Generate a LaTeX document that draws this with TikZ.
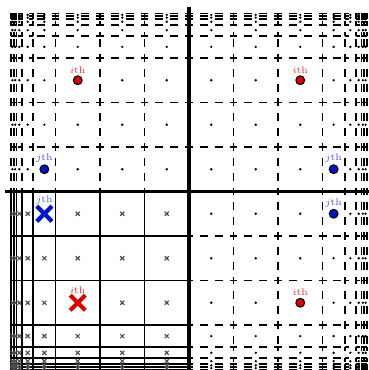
\documentclass[tikz,border=0pt]{standalone}
\usepackage{amsmath}
\usetikzlibrary{shapes.misc}
\definecolor{Ink}{HTML}{000000}
\definecolor{IthRed}{HTML}{DD0000}
\definecolor{JthBlue}{HTML}{0014CC}
\definecolor{MarkGray}{HTML}{505050}

\begin{document}
\begin{tikzpicture}[
  gridline/.style={
    draw=Ink,
    line width=1.2pt
  },
  imageline/.style={
    draw=Ink,
    line width=1.2pt,
    dash pattern=on 5.1pt off 4.385pt,
    dash phase=2.55pt
  },
  axisline/.style={
    draw=Ink,
    line width=2.5pt
  },
  celldot/.style={
    fill=Ink
  },
  cellcross/.style={
    draw=MarkGray,
    line width=0.75pt
  },
  srcdot/.style={
    circle,
    draw=Ink,
    line width=0.7pt,
    inner sep=0pt,
    minimum size=5.6pt
  },
  srccross/.style={
    cross out,
    line width=2.7pt,
    inner sep=0pt,
    minimum size=7pt
  },
  tag/.style={
    font=\fontsize{6.2}{7}\selectfont,
    inner sep=1pt
  }
]

\useasboundingbox (-4.247,-4.011) rectangle (4.022,4.303);

\def\marks{1,2,3,3.5,3.75,3.875,3.9375,4}
\def\cuts{0/1,1/2,2/3,3/3.5,3.5/3.75,3.75/3.875,3.875/3.9375,3.9375/4}

% real cells (lower left)
\begin{scope}[xscale=-1, yscale=-1]
  \foreach \t in \marks {
    \draw[gridline] (\t,0) -- (\t,4);
    \draw[gridline] (0,\t) -- (4,\t);
  }
  \foreach \xa/\xb in \cuts
    \foreach \ya/\yb in \cuts
      \draw[cellcross] ({(\xa+\xb)/2},{(\ya+\yb)/2})
        ++(-1.3pt,-1.3pt) -- ++(2.6pt,2.6pt)
        ++(0,-2.6pt) -- ++(-2.6pt,2.6pt);
\end{scope}

% image cells
\foreach \sx/\sy in {-1/1, 1/1, 1/-1} {
  \begin{scope}[xscale=\sx, yscale=\sy]
    \foreach \t in \marks
      \foreach \ua/\ub in \cuts {
        \draw[imageline] (\t,\ua) -- (\t,\ub);
        \draw[imageline] (\ua,\t) -- (\ub,\t);
      }
    \foreach \xa/\xb in \cuts
      \foreach \ya/\yb in \cuts
        \fill[celldot] ({(\xa+\xb)/2},{(\ya+\yb)/2}) circle (0.85pt);
  \end{scope}
}

\draw[axisline] (0,-4.2) -- (0,4.146);
\draw[axisline] (-4.135,0) -- (4.2,0);

\node[srccross, draw=IthRed, label={[tag, text=IthRed!80]above:$i$th}] (ith) at (-2.5,-2.5) {};
\node[srccross, draw=JthBlue, label={[tag, text=JthBlue!70]above:$j$th}] (jth) at (-3.25,-0.5) {};

\node[srcdot, fill=IthRed, label={[tag, text=IthRed!80]above:$i$th}] (ith-up) at (-2.5,2.5) {};
\node[srcdot, fill=IthRed, label={[tag, text=IthRed!80]above:$i$th}] (ith-diag) at (2.5,2.5) {};
\node[srcdot, fill=IthRed, label={[tag, text=IthRed!80]above:$i$th}] (ith-side) at (2.5,-2.5) {};

\node[srcdot, fill=JthBlue, label={[tag, text=JthBlue!70]above:$j$th}] (jth-up) at (-3.25,0.5) {};
\node[srcdot, fill=JthBlue, label={[tag, text=JthBlue!70]above:$j$th}] (jth-diag) at (3.25,0.5) {};
\node[srcdot, fill=JthBlue, label={[tag, text=JthBlue!70]above:$j$th}] (jth-side) at (3.25,-0.5) {};

\end{tikzpicture}
\end{document}
